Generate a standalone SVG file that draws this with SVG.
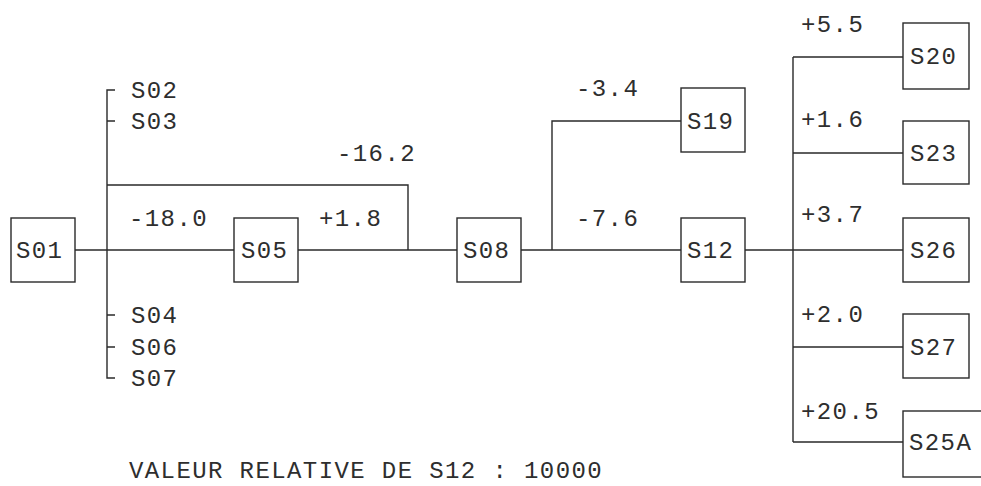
<svg xmlns="http://www.w3.org/2000/svg" width="981" height="486" viewBox="0 0 981 486">
  <style>
    .box { fill: #ffffff; stroke: #2a2a2a; stroke-width: 1.4; }
    .ln { fill: none; stroke: #2a2a2a; stroke-width: 1.4; }
    text { font-family: "Liberation Mono", "DejaVu Sans Mono", monospace; font-size: 24px; letter-spacing: 1.4px; fill: #2e2e2e; }
  </style>
  <rect width="981" height="486" fill="#ffffff"/>

  <!-- connectors -->
  <g id="connectors">
    <!-- S01 bus with side stations -->
    <path class="ln" d="M115,90 H107 V378 H115"/>
    <path class="ln" d="M107,121 H115 M107,315 H115 M107,347 H115"/>
    <!-- main line S01 - S05 - S08 -->
    <path class="ln" d="M75,250 H234 M298,250 H457"/>
    <!-- bypass -16.2 -->
    <path class="ln" d="M107,185 H408 V250"/>
    <!-- S08 - S12 and branch to S19 -->
    <path class="ln" d="M521,250 H681 M552,250 V121 H681"/>
    <!-- S12 fan-out -->
    <path class="ln" d="M745,250 H903 M793,57 V442"/>
    <path class="ln" d="M793,57 H903 M793,153 H903 M793,347 H903 M793,442 H903"/>
  </g>

  <!-- side station labels -->
  <g id="side-labels">
    <text x="131" y="98">S02</text>
    <text x="131" y="129">S03</text>
    <text x="131" y="323">S04</text>
    <text x="131" y="355">S06</text>
    <text x="131" y="386">S07</text>
  </g>

  <!-- edge values -->
  <g id="values">
    <text x="129" y="226">-18.0</text>
    <text x="319" y="226">+1.8</text>
    <text x="337" y="161">-16.2</text>
    <text x="576" y="96">-3.4</text>
    <text x="576" y="226">-7.6</text>
    <text x="801" y="32">+5.5</text>
    <text x="801" y="127">+1.6</text>
    <text x="801" y="222">+3.7</text>
    <text x="801" y="322">+2.0</text>
    <text x="801" y="419">+20.5</text>
  </g>

  <g id="S01"><rect class="box" x="11" y="218" width="64" height="64"/><text x="16" y="258">S01</text></g>
  <g id="S05"><rect class="box" x="234" y="218" width="64" height="64"/><text x="241" y="258">S05</text></g>
  <g id="S08"><rect class="box" x="457" y="218" width="64" height="64"/><text x="463" y="258">S08</text></g>
  <g id="S19"><rect class="box" x="681" y="88" width="64" height="64"/><text x="687" y="129">S19</text></g>
  <g id="S12"><rect class="box" x="681" y="218" width="64" height="64"/><text x="687" y="258">S12</text></g>
  <g id="S20"><rect class="box" x="903" y="23" width="66" height="66"/><text x="910" y="64">S20</text></g>
  <g id="S23"><rect class="box" x="903" y="121" width="66" height="63"/><text x="910" y="161">S23</text></g>
  <g id="S26"><rect class="box" x="903" y="218" width="66" height="64"/><text x="910" y="258">S26</text></g>
  <g id="S27"><rect class="box" x="903" y="314" width="66" height="64"/><text x="910" y="355">S27</text></g>
  <g id="S25A"><rect class="box" x="903" y="411" width="82" height="66"/><text x="909" y="450">S25A</text></g>

  <text id="caption" x="129" y="478">VALEUR RELATIVE DE S12 : 10000</text>
</svg>
